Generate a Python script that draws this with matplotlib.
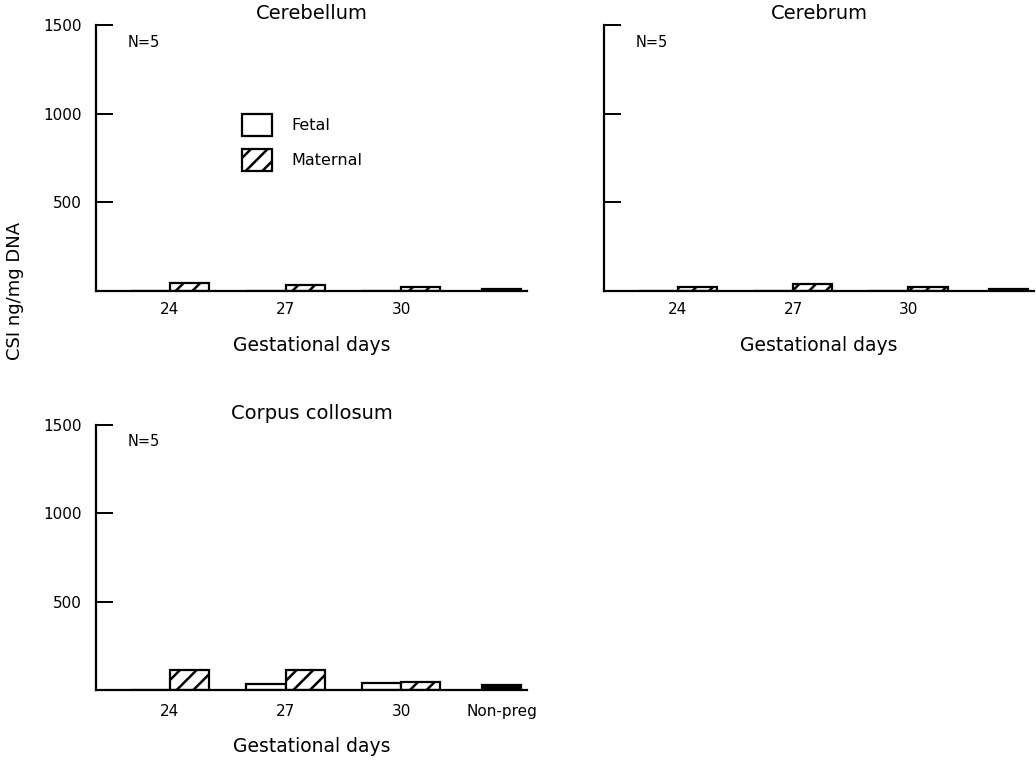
import matplotlib
matplotlib.use('Agg')
import matplotlib.pyplot as plt
from matplotlib.patches import Patch

plt.rcParams['font.family'] = ['DejaVu Sans']
plt.rcParams['hatch.linewidth'] = 1.8

# gestational day groups + non-pregnant control
days = ['24', '27', '30']
group_x = [0, 1, 2]
np_x = 2.87

# CSI ng/mg DNA
panels = ['Cerebellum', 'Cerebrum', 'Corpus collosum']
fetal = {
    'Cerebellum': [0, 0, 0],
    'Cerebrum': [0, 0, 0],
    'Corpus collosum': [0, 32, 38],
}
maternal = {
    'Cerebellum': [45, 34, 23],
    'Cerebrum': [23, 38, 23],
    'Corpus collosum': [114, 114, 47],
}
nonpreg = {
    'Cerebellum': 11,
    'Cerebrum': 10,
    'Corpus collosum': 27,
}

fig = plt.figure(figsize=(10.36, 7.62), dpi=100)
W, H = 1036, 762
# axes boxes in pixels: left, top, right, bottom
boxes = {
    'Cerebellum': (96, 25, 527, 291),
    'Cerebrum': (604, 25, 1034, 291),
    'Corpus collosum': (96, 425, 527, 690),
}

bw = 0.34
for name in panels:
    l, t, r, b = boxes[name]
    ax = fig.add_axes([l / W, 1 - b / H, (r - l) / W, (b - t) / H])
    xf = [x - bw / 2 for x in group_x]
    xm = [x + bw / 2 for x in group_x]
    ax.bar(xf, fetal[name], width=bw, facecolor='white', edgecolor='black', linewidth=1.6)
    ax.bar(xm, maternal[name], width=bw, facecolor='white', edgecolor='black',
           linewidth=1.6, hatch='//')
    ax.bar([np_x], [nonpreg[name]], width=bw, facecolor='black', edgecolor='black', linewidth=1.6)

    ax.set_xlim(-0.64, 3.09)
    ax.set_ylim(0, 1500)
    ax.spines['top'].set_visible(False)
    ax.spines['right'].set_visible(False)
    ax.spines['left'].set_linewidth(1.6)
    ax.spines['bottom'].set_linewidth(1.6)
    ax.set_yticks([500, 1000, 1500])
    ax.tick_params(axis='y', direction='in', length=12, width=1.4, labelsize=11, pad=10)
    if name == 'Cerebrum':
        ax.set_yticklabels([])
    if name == 'Corpus collosum':
        ax.set_xticks(group_x + [np_x])
        ax.set_xticklabels(days + ['Non-preg'])
        ax.tick_params(axis='x', length=0, labelsize=11, pad=10)
        ax.set_xlabel('Gestational days', fontsize=13.5)
        ax.xaxis.set_label_coords(0.5, -(737 - b) / (b - t))
    else:
        ax.set_xticks(group_x)
        ax.set_xticklabels(days)
        ax.tick_params(axis='x', length=0, labelsize=11, pad=8)
        ax.set_xlabel('Gestational days', fontsize=13.5)
        ax.xaxis.set_label_coords(0.5, -(336 - b) / (b - t))
    ax.set_title(name, fontsize=14, pad=4.5)
    ax.text(32 / (r - l), 0.936, 'N=5', transform=ax.transAxes, fontsize=10.5,
            va='center', ha='left')

    if name == 'Cerebellum':
        handles = [Patch(facecolor='white', edgecolor='black', linewidth=1.6),
                   Patch(facecolor='white', edgecolor='black', linewidth=1.6, hatch='//')]
        ax.legend(handles, ['Fetal', 'Maternal'], loc='upper left',
                  bbox_to_anchor=(242 / W, 1 - 114 / H), bbox_transform=fig.transFigure,
                  frameon=False, borderpad=0, borderaxespad=0, fontsize=11.5,
                  handlelength=1.9, handleheight=1.75, labelspacing=0.82,
                  handletextpad=1.2)

fig.text(15 / W, 1 - 291 / H, 'CSI ng/mg DNA', rotation=90, fontsize=13,
         ha='center', va='center')

fig.savefig('out.png', dpi=100)
